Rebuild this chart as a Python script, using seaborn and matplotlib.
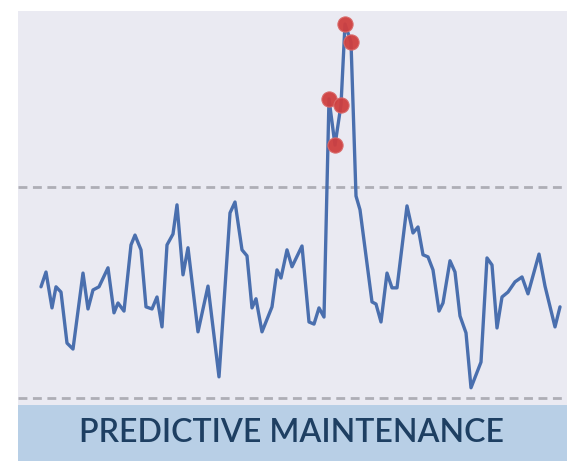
import numpy as np
import pandas as pd
import matplotlib.pyplot as plt
import seaborn as sns

# ------------------------------ data ------------------------------ #
t = [4.6, 5.6, 6.8, 7.6, 8.6, 9.8, 11.0, 13.0, 14.0, 15.0, 16.2, 18.0, 19.2, 20.0, 21.2,
     22.6, 23.4, 24.6, 25.6, 26.8, 27.8, 28.8, 29.8, 31.0, 31.8, 33.0, 34.0, 36.0, 38.0, 40.2,
     42.4, 43.4, 44.8, 45.8, 46.8, 47.6, 48.8, 50.8, 51.8, 52.6, 53.8, 54.8, 56.8, 58.2, 59.2,
     60.2, 61.2, 62.2, 63.4, 64.6, 65.4, 66.6, 67.6, 68.4, 70.8, 71.6, 72.6, 73.8, 74.8, 75.8,
     77.8, 79.0, 80.0, 81.0, 82.0, 83.0, 84.2, 85.0, 86.4, 87.4, 88.4, 89.6, 90.6, 92.6, 93.8,
     94.8, 95.8, 96.8, 98.0, 99.4, 100.8, 102.0, 104.2, 105.4, 107.4, 108.4]

sensor = [0.16, 0.58, -0.44, 0.16, 0.01, -1.44, -1.61, 0.55, -0.47, 0.07, 0.16, 0.70, -0.58, -0.30, -0.53,
          1.35, 1.63, 1.21, -0.41, -0.47, -0.13, -0.98, 1.35, 1.66, 2.49, 0.50, 1.27, -1.12, 0.18, -2.40,
          2.26, 2.57, 1.21, 1.04, -0.44, -0.18, -1.12, -0.41, 0.64, 0.41, 1.21, 0.73, 1.32, -0.84, -0.90,
          -0.44, -0.70, 5.50, 4.19, 5.33, 7.63, 7.12, 2.74, 2.35, -0.27, -0.33, -0.84, 0.55, 0.13, 0.13,
          2.46, 1.69, 1.86, 1.07, 1.01, 0.64, -0.53, -0.30, 0.90, 0.58, -0.67, -1.15, -2.71, -1.98, 0.98,
          0.78, -1.01, -0.13, 0.01, 0.30, 0.44, -0.04, 1.09, 0.18, -0.98, -0.41]

upper_limit = 3.0
lower_limit = -3.0
title = "PREDICTIVE MAINTENANCE"

df = pd.DataFrame({"t": t, "value": sensor})
anomalies = df[df["value"] > upper_limit]  # punkter over grensen markeres

# ------------------------------ plot ------------------------------ #
sns.set_style("dark")
fig = plt.figure(figsize=(5.74, 4.61), dpi=100)
fig.patch.set_facecolor("white")

W, H = 574, 461
ax = fig.add_axes([18 / W, (H - 405) / H, (567 - 18) / W, (405 - 11) / H])
ax.set_facecolor("#eaeaf2")

ax.axhline(upper_limit, color="#aeaeb6", lw=2, ls=(0, (3.2, 2)), zorder=1)
ax.axhline(lower_limit, color="#aeaeb6", lw=2, ls=(0, (3.2, 2)), zorder=1)

sns.lineplot(data=df, x="t", y="value", ax=ax, color="#4a6fae", lw=2.4, zorder=2)
sns.scatterplot(data=anomalies, x="t", y="value", ax=ax, color="#cf3f3f",
                s=120, edgecolor="#d96a6a", linewidth=0.8, alpha=0.95, zorder=3)

ax.set_xlim(0, 109.8)
ax.set_ylim(-3.2, 8.0)
ax.set_xticks([])
ax.set_yticks([])
ax.set_xlabel("")
ax.set_ylabel("")
for s in ax.spines.values():
    s.set_visible(False)

# label band
band = fig.add_axes([18 / W, 0, (567 - 18) / W, (H - 405) / H])
band.set_facecolor("#b8cfe6")
band.set_xticks([])
band.set_yticks([])
for s in band.spines.values():
    s.set_visible(False)
band.text(0.498, 0.50, title, ha="center", va="center", color="#1e3f62",
          fontsize=23, family="Lato", fontweight="semibold", transform=band.transAxes)

fig.savefig("out.png", dpi=100)
